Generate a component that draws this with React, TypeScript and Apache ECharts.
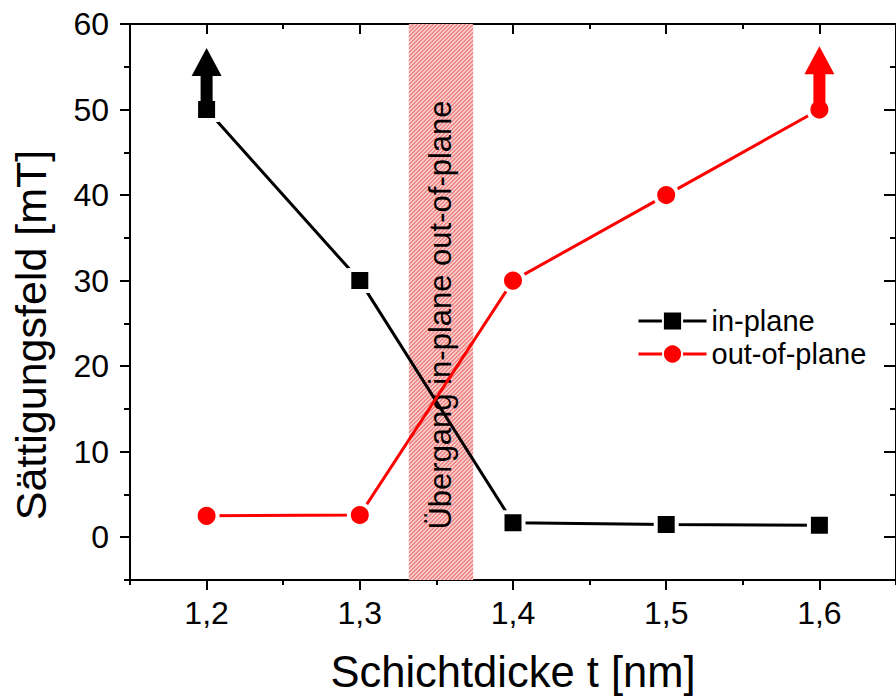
import React, { useEffect, useRef } from "react";
import * as echarts from "echarts";

// Schichtdicke t [nm]
const thickness = [1.2, 1.3, 1.4, 1.5, 1.6];
// Sättigungsfeld [mT]
const inPlane = [50, 30, 1.7, 1.5, 1.4];
const outOfPlane = [2.5, 2.6, 30, 40, 50];

const xRange = [1.15, 1.65];
const yRange = [-5, 60];
const xMajorTicks = [1.2, 1.3, 1.4, 1.5, 1.6];
const xMinorTicks = [1.15, 1.25, 1.35, 1.45, 1.55, 1.65];
const yMajorTicks = [0, 10, 20, 30, 40, 50, 60];
const yMinorTicks = [-5, 5, 15, 25, 35, 45, 55];

// Übergangsbereich in-plane -> out-of-plane
const transitionBand = [1.332, 1.374];
const transitionLabel = "Übergang in-plane out-of-plane";

// Pfeile: Sättigungsfeld liegt oberhalb des Messbereichs
const arrowX = [1.2, 1.6];
const arrowFrom = [50, 50];
const arrowTip = [57.2, 57.4];
const arrowColors = ["#000000", "#ff0000"];

const FONT = "Liberation Sans, Arial, sans-serif";

function hatchPattern(): HTMLCanvasElement {
  const c = document.createElement("canvas");
  c.width = 4;
  c.height = 4;
  const ctx = c.getContext("2d")!;
  for (let x = 0; x < 4; x++) {
    for (let y = 0; y < 4; y++) {
      ctx.fillStyle = (x + y) % 4 < 2 ? "#f08888" : "#f9cccc";
      ctx.fillRect(x, y, 1, 1);
    }
  }
  return c;
}

export default function App() {
  const ref = useRef<HTMLDivElement>(null);

  useEffect(() => {
    if (!ref.current) return;
    const chart = echarts.init(ref.current, null, { renderer: "svg" });

    const axisLine = { show: true, onZero: false, lineStyle: { color: "#000", width: 2 } };
    const fmtX = (v: number) => v.toFixed(1).replace(".", ",");

    const baseX = { type: "value" as const, min: xRange[0], max: xRange[1], splitLine: { show: false } };
    const baseY = { type: "value" as const, min: yRange[0], max: yRange[1], splitLine: { show: false } };

    chart.setOption({
      animation: false,
      backgroundColor: "#ffffff",
      grid: { left: 130, right: -8, top: 24, bottom: 116, containLabel: false },
      legend: {
        orient: "vertical",
        left: 632,
        top: 301,
        itemWidth: 68,
        itemHeight: 24,
        itemGap: 3,
        lineStyle: { width: 3 },
        textStyle: { fontSize: 29, fontFamily: FONT, color: "#000", lineHeight: 30 },
        data: ["in-plane", "out-of-plane"],
      },
      xAxis: [
        {
          ...baseX,
          position: "bottom",
          name: "Schichtdicke t [nm]",
          nameLocation: "middle",
          nameGap: 70,
          nameTextStyle: { fontSize: 43.5, fontFamily: FONT, color: "#000" },
          axisLine,
          axisTick: { show: true, inside: false, length: 10, customValues: xMajorTicks, lineStyle: { color: "#000", width: 2 } },
          axisLabel: { show: true, customValues: xMajorTicks, formatter: fmtX, margin: 17, fontSize: 32, fontFamily: FONT, color: "#000" },
        },
        {
          ...baseX,
          position: "top",
          axisLine,
          axisTick: { show: true, inside: true, length: 10, customValues: xMajorTicks, lineStyle: { color: "#000", width: 2 } },
          axisLabel: { show: false },
        },
        {
          ...baseX,
          position: "bottom",
          axisLine: { show: false, onZero: false },
          axisTick: { show: true, inside: false, length: 5, customValues: xMinorTicks, lineStyle: { color: "#000", width: 2 } },
          axisLabel: { show: false },
        },
        {
          ...baseX,
          position: "top",
          axisLine: { show: false, onZero: false },
          axisTick: { show: true, inside: true, length: 5, customValues: xMinorTicks, lineStyle: { color: "#000", width: 2 } },
          axisLabel: { show: false },
        },
      ],
      yAxis: [
        {
          ...baseY,
          position: "left",
          axisLine,
          axisTick: { show: true, inside: false, length: 10, customValues: yMajorTicks, lineStyle: { color: "#000", width: 2 } },
          axisLabel: { show: true, customValues: yMajorTicks, margin: 21, fontSize: 32, fontFamily: FONT, color: "#000" },
        },
        {
          ...baseY,
          position: "right",
          axisLine,
          axisTick: { show: true, inside: true, length: 12, customValues: yMajorTicks, lineStyle: { color: "#000", width: 2 } },
          axisLabel: { show: false },
        },
        {
          ...baseY,
          position: "left",
          axisLine: { show: false, onZero: false },
          axisTick: { show: true, inside: false, length: 6, customValues: yMinorTicks, lineStyle: { color: "#000", width: 2 } },
          axisLabel: { show: false },
        },
        {
          ...baseY,
          position: "right",
          axisLine: { show: false, onZero: false },
          axisTick: { show: true, inside: true, length: 6, customValues: yMinorTicks, lineStyle: { color: "#000", width: 2 } },
          axisLabel: { show: false },
        },
      ],
      graphic: [
        {
          type: "text",
          x: 31,
          y: 335,
          rotation: Math.PI / 2,
          style: {
            text: "Sättigungsfeld [mT]",
            fontSize: 43,
            fontFamily: FONT,
            fill: "#000",
            align: "center",
            verticalAlign: "middle",
          },
        },
      ],
      series: [
        {
          name: "in-plane",
          type: "line",
          xAxisIndex: 0,
          yAxisIndex: 0,
          data: thickness.map((t, i) => [t, inPlane[i]]),
          symbol: "rect",
          symbolSize: 21,
          lineStyle: { color: "#000", width: 3 },
          itemStyle: { color: "#000", borderColor: "#fff", borderWidth: 4 },
          z: 3,
          markArea: {
            silent: true,
            itemStyle: { color: { image: hatchPattern(), repeat: "repeat" } },
            label: {
              show: true,
              position: "inside",
              rotate: 90,
              offset: [-13, 0],
              formatter: transitionLabel,
              fontSize: 31,
              fontFamily: FONT,
              color: "#000",
            },
            data: [[{ xAxis: transitionBand[0] }, { xAxis: transitionBand[1] }]],
          },
        },
        {
          name: "out-of-plane",
          type: "line",
          xAxisIndex: 0,
          yAxisIndex: 0,
          data: thickness.map((t, i) => [t, outOfPlane[i]]),
          symbol: "circle",
          symbolSize: 22,
          lineStyle: { color: "#ff0000", width: 3 },
          itemStyle: { color: "#ff0000", borderColor: "#fff", borderWidth: 4 },
          z: 3,
        },
        {
          name: "arrows",
          type: "custom",
          xAxisIndex: 0,
          yAxisIndex: 0,
          clip: false,
          z: 5,
          data: arrowX.map((x, i) => [x, arrowFrom[i], arrowTip[i], i]),
          renderItem: (_params: any, api: any) => {
            const base = api.coord([api.value(0), api.value(1)]);
            const tip = api.coord([api.value(0), api.value(2)]);
            const color = arrowColors[api.value(3)];
            const cx = base[0];
            const shaft = 6;
            const head = 15;
            const headLen = 28;
            const neck = tip[1] + headLen;
            return {
              type: "polygon",
              shape: {
                points: [
                  [cx - shaft, base[1]],
                  [cx - shaft, neck],
                  [cx - head, neck],
                  [cx, tip[1]],
                  [cx + head, neck],
                  [cx + shaft, neck],
                  [cx + shaft, base[1]],
                ],
              },
              style: { fill: color },
            };
          },
        },
      ],
    });

    return () => chart.dispose();
  }, []);

  return (
    <div
      ref={ref}
      style={{ position: "fixed", left: 0, top: 0, width: 896, height: 699 }}
    />
  );
}
